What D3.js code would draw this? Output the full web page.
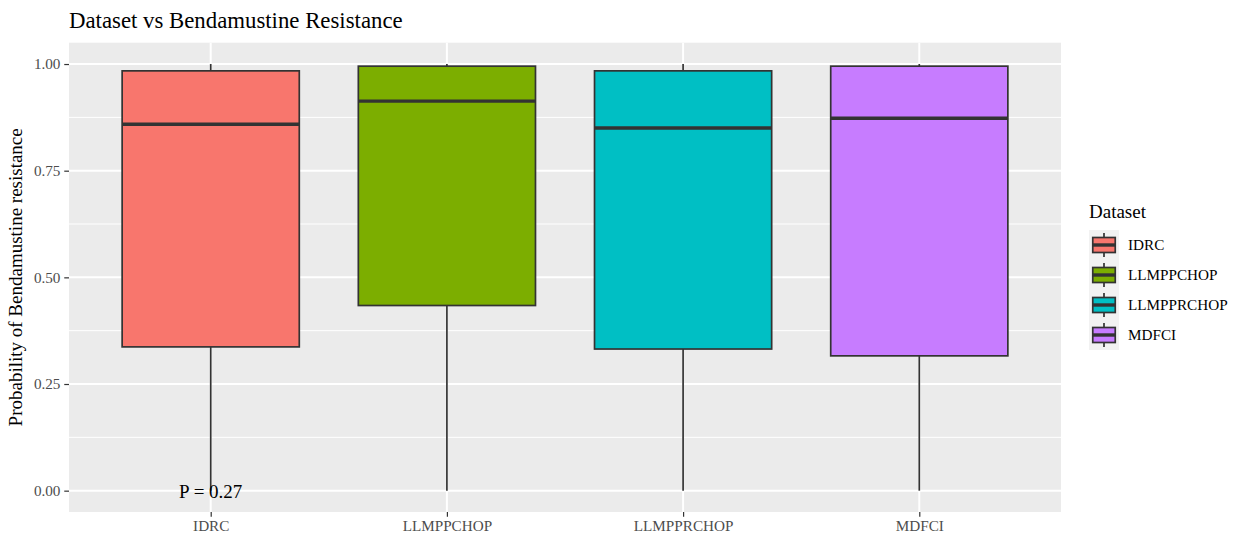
<!DOCTYPE html>
<html>
<head>
<meta charset="utf-8">
<script src="https://cdn.jsdelivr.net/npm/d3@7"></script>
<style>
  html, body { margin: 0; padding: 0; background: #ffffff; }
  svg { display: block; }
  text { font-family: "Liberation Serif", "Times New Roman", serif; }
</style>
</head>
<body>
<svg id="chart" width="1240" height="533"></svg>
<script>
// Box summaries per dataset
const categories = ["IDRC", "LLMPPCHOP", "LLMPPRCHOP", "MDFCI"];
const colors = ["#F8766D", "#7CAE00", "#00BFC4", "#C77CFF"];
const whiskerLow = [0, 0, 0, 0];
const q1 = [0.337, 0.434, 0.332, 0.316];
const median = [0.859, 0.913, 0.850, 0.873];
const q3 = [0.984, 0.995, 0.984, 0.995];
const whiskerHigh = [1.0, 1.0, 1.0, 1.0];
const yTicks = [0, 0.25, 0.5, 0.75, 1.0];
const yMinor = [0.125, 0.375, 0.625, 0.875];
const pLabel = "P = 0.27";

const svg = d3.select("#chart");
const panel = { left: 69, right: 1061, top: 42.7, bottom: 512 };

const x = d3.scalePoint().domain(categories).range([panel.left, panel.right]).padding(0.6);
const y = d3.scaleLinear().domain([-0.05, 1.05]).range([panel.bottom, panel.top]);
const boxW = x.step() * 0.75;

// panel background
svg.append("rect")
  .attr("x", panel.left).attr("y", panel.top)
  .attr("width", panel.right - panel.left).attr("height", panel.bottom - panel.top)
  .attr("fill", "#EBEBEB");

// grid lines
const grid = svg.append("g");
grid.selectAll(".minor").data(yMinor).enter().append("line")
  .attr("x1", panel.left).attr("x2", panel.right)
  .attr("y1", d => y(d)).attr("y2", d => y(d))
  .attr("stroke", "#ffffff").attr("stroke-width", 1);
grid.selectAll(".majorY").data(yTicks).enter().append("line")
  .attr("x1", panel.left).attr("x2", panel.right)
  .attr("y1", d => y(d)).attr("y2", d => y(d))
  .attr("stroke", "#ffffff").attr("stroke-width", 2);
grid.selectAll(".majorX").data(categories).enter().append("line")
  .attr("y1", panel.top).attr("y2", panel.bottom)
  .attr("x1", d => x(d)).attr("x2", d => x(d))
  .attr("stroke", "#ffffff").attr("stroke-width", 2);

// boxes
const stats = categories.map((c, i) => ({
  cat: c, color: colors[i], lo: whiskerLow[i], q1: q1[i], med: median[i], q3: q3[i], hi: whiskerHigh[i]
}));
const boxes = svg.append("g").selectAll("g").data(stats).enter().append("g");
boxes.append("line")
  .attr("x1", d => x(d.cat)).attr("x2", d => x(d.cat))
  .attr("y1", d => y(d.hi)).attr("y2", d => y(d.q3))
  .attr("stroke", "#333333").attr("stroke-width", 1.7);
boxes.append("line")
  .attr("x1", d => x(d.cat)).attr("x2", d => x(d.cat))
  .attr("y1", d => y(d.q1)).attr("y2", d => y(d.lo))
  .attr("stroke", "#333333").attr("stroke-width", 1.7);
boxes.append("rect")
  .attr("x", d => x(d.cat) - boxW / 2).attr("width", boxW)
  .attr("y", d => y(d.q3)).attr("height", d => y(d.q1) - y(d.q3))
  .attr("fill", d => d.color).attr("stroke", "#333333").attr("stroke-width", 1.7);
boxes.append("line")
  .attr("x1", d => x(d.cat) - boxW / 2).attr("x2", d => x(d.cat) + boxW / 2)
  .attr("y1", d => y(d.med)).attr("y2", d => y(d.med))
  .attr("stroke", "#333333").attr("stroke-width", 3.4);

// p-value annotation
svg.append("text")
  .attr("x", x(categories[0])).attr("y", y(0))
  .attr("dy", "0.36em")
  .attr("text-anchor", "middle")
  .attr("font-size", 19).attr("fill", "#000000")
  .text(pLabel);

// y axis
const yAxis = d3.axisLeft(y).tickValues(yTicks).tickFormat(d3.format(".2f")).tickSize(4.75).tickPadding(3.8);
const gy = svg.append("g").attr("transform", `translate(${panel.left},0)`).call(yAxis);
gy.select(".domain").remove();
gy.selectAll(".tick line").attr("stroke", "#333333").attr("stroke-width", 1.2);
gy.selectAll(".tick text").attr("fill", "#4D4D4D").attr("font-size", 15.2)
  .attr("font-family", "Liberation Serif, serif");

// x axis
const xAxis = d3.axisBottom(x).tickSize(4.75).tickPadding(3.8);
const gx = svg.append("g").attr("transform", `translate(0,${panel.bottom})`).call(xAxis);
gx.select(".domain").remove();
gx.selectAll(".tick line").attr("stroke", "#333333").attr("stroke-width", 1.2);
gx.selectAll(".tick text").attr("fill", "#4D4D4D").attr("font-size", 15.2)
  .attr("font-family", "Liberation Serif, serif");

// y axis title
svg.append("text")
  .attr("transform", `translate(22,${(panel.top + panel.bottom) / 2}) rotate(-90)`)
  .attr("text-anchor", "middle")
  .attr("font-size", 19).attr("fill", "#000000")
  .text("Probability of Bendamustine resistance");

// plot title
svg.append("text")
  .attr("x", panel.left).attr("y", 28)
  .attr("font-size", 22.8).attr("fill", "#000000")
  .text("Dataset vs Bendamustine Resistance");

// legend
const legend = svg.append("g").attr("transform", "translate(1089,230)");
const keySize = 30;
legend.append("text")
  .attr("x", 0).attr("y", -12)
  .attr("font-size", 19).attr("fill", "#000000")
  .text("Dataset");
const keys = legend.selectAll(".key").data(stats).enter().append("g")
  .attr("transform", (d, i) => `translate(0,${i * keySize})`);
keys.append("rect")
  .attr("width", keySize).attr("height", keySize).attr("fill", "#F2F2F2");
keys.append("line")
  .attr("x1", keySize / 2).attr("x2", keySize / 2)
  .attr("y1", keySize * 0.1).attr("y2", keySize * 0.9)
  .attr("stroke", "#333333").attr("stroke-width", 1.7);
keys.append("rect")
  .attr("x", keySize * 0.125).attr("y", keySize * 0.25)
  .attr("width", keySize * 0.75).attr("height", keySize * 0.5)
  .attr("fill", d => d.color).attr("stroke", "#333333").attr("stroke-width", 1.7);
keys.append("line")
  .attr("x1", keySize * 0.125).attr("x2", keySize * 0.875)
  .attr("y1", keySize / 2).attr("y2", keySize / 2)
  .attr("stroke", "#333333").attr("stroke-width", 3.4);
keys.append("text")
  .attr("x", keySize + 9).attr("y", keySize / 2).attr("dy", "0.35em")
  .attr("font-size", 15.2).attr("fill", "#000000")
  .text(d => d.cat);
</script>
</body>
</html>
